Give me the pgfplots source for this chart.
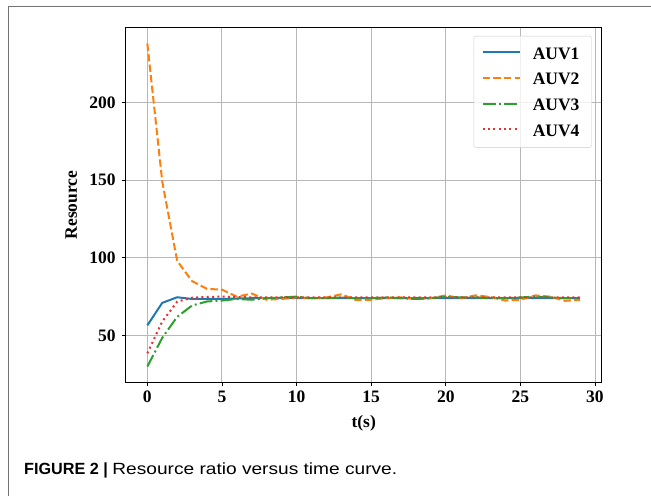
\documentclass[border=0pt]{standalone}
\usepackage{fontspec}
\setmainfont{Liberation Serif}
\newfontfamily\capfont{Liberation Sans}
\usepackage{pgfplots}
\pgfplotsset{compat=1.18}

\definecolor{tabblue}{HTML}{1F77B4}
\definecolor{taborange}{HTML}{FF7F0E}
\definecolor{tabgreen}{HTML}{2CA02C}
\definecolor{tabred}{HTML}{E8302F}

\begin{document}
\begin{tikzpicture}
\useasboundingbox (0bp,0bp) rectangle (651bp,496bp);
% figure frame
\draw[black!55, line width=0.9bp] (8bp,0bp) -- (8bp,489.7bp) -- (651bp,489.7bp);
% caption
\node[anchor=base west, inner sep=0pt] at (24bp,21.7bp)
  {\capfont\fontsize{16.2bp}{19bp}\selectfont\textbf{FIGURE 2 |} \scalebox{1.18}[1]{Resource ratio versus time curve.}};

\begin{axis}[
    at={(125.7bp,113.3bp)}, anchor=south west,
    scale only axis,
    width=476bp, height=355.4bp,
    xmin=-1.45, xmax=30.45,
    ymin=19.6, ymax=248.4,
    xtick={0,5,...,30},
    ytick={50,100,150,200},
    grid=major,
    major grid style={black!28, line width=0.9bp},
    axis line style={black, line width=0.9bp},
    tick align=outside,
    major tick length=3.5bp,
    tick style={black, line width=0.8bp},
    xtick pos=bottom, ytick pos=left,
    /pgf/number format/assume math mode=true,
    tick label style={font=\fontsize{17.5bp}{21bp}\selectfont\bfseries},
    yticklabel style={xshift=-3bp},
    xticklabel style={yshift=-1bp},
    xlabel={t(s)},
    ylabel={Resource},
    xlabel style={at={(axis description cs:0.5,0)}, anchor=north, yshift=-29bp,
        font=\fontsize{17.5bp}{21bp}\selectfont\bfseries},
    every axis y label/.style={at={(axis description cs:-0.0945,0.5)}, rotate=90, anchor=south,
        font=\fontsize{17.5bp}{21bp}\selectfont\bfseries},
    legend cell align=left,
    legend style={
        at={(1,1)}, anchor=north east, xshift=-10bp, yshift=-8.7bp,
        draw=black!20, rounded corners=2bp, fill=white, fill opacity=0.8, text opacity=1,
        font=\fontsize{17.5bp}{21bp}\selectfont\bfseries,
        nodes={inner sep=4bp, text height=12bp, text depth=0bp},
        row sep=5.6bp, column sep=8bp, inner xsep=8bp, inner ysep=7.2bp,
    },
    legend image code/.code={\draw[#1] (0bp,1bp) -- (37bp,1bp);},
]
\addplot[tabblue, line width=2bp] coordinates {
 (0,56.5) (1,71) (2,74.6) (3,73.5) (4,73.5) (5,73.5) (6,73.8) (7,74) (8,74) (9,74)
 (10,74) (11,74) (12,74) (13,74) (14,74) (15,74) (16,74) (17,74) (18,74) (19,74)
 (20,74) (21,74) (22,74) (23,74) (24,74) (25,74) (26,74) (27,74) (28,74) (29,74)
};
\addlegendentry{AUV1}
\addplot[taborange, line width=2bp, dash pattern=on 7.4bp off 3.2bp] coordinates {
 (0,238) (1,149) (2,98) (3,85) (4,80) (5,79.5) (6,75) (7,77) (8,73) (9,73.5)
 (10,74.5) (11,74) (12,74.5) (13,76.5) (14,72.8) (15,73) (16,74) (17,74.5) (18,73.5) (19,74)
 (20,75.8) (21,74) (22,75.8) (23,74.8) (24,72.5) (25,73) (26,75.8) (27,75) (28,72.3) (29,73)
};
\addlegendentry{AUV2}
\addplot[tabgreen, line width=2bp, dash pattern=on 12.8bp off 3.2bp on 2bp off 3.2bp] coordinates {
 (0,30) (1,48.5) (2,62) (3,69.3) (4,71.9) (5,72.5) (6,73.5) (7,73) (8,74) (9,74.5)
 (10,75) (11,74) (12,74) (13,74.5) (14,74) (15,74) (16,74.5) (17,74) (18,73.5) (19,74)
 (20,75) (21,74.5) (22,74.5) (23,74) (24,74) (25,74.5) (26,75) (27,74.5) (28,74) (29,74)
};
\addlegendentry{AUV3}
\addplot[tabred, line width=2bp, dash pattern=on 2bp off 3.3bp] coordinates {
 (0,38.5) (1,59) (2,71.8) (3,74.3) (4,74.8) (5,75) (6,74.8) (7,74.5) (8,74.5) (9,74.5)
 (10,74.5) (11,74.5) (12,74.5) (13,74.5) (14,74.5) (15,74.5) (16,74.5) (17,74.5) (18,74.5) (19,74.5)
 (20,74.5) (21,74.5) (22,74.5) (23,74.5) (24,74.5) (25,74.5) (26,74.5) (27,74.5) (28,74.5) (29,74.5)
};
\addlegendentry{AUV4}
\end{axis}
\end{tikzpicture}
\end{document}
